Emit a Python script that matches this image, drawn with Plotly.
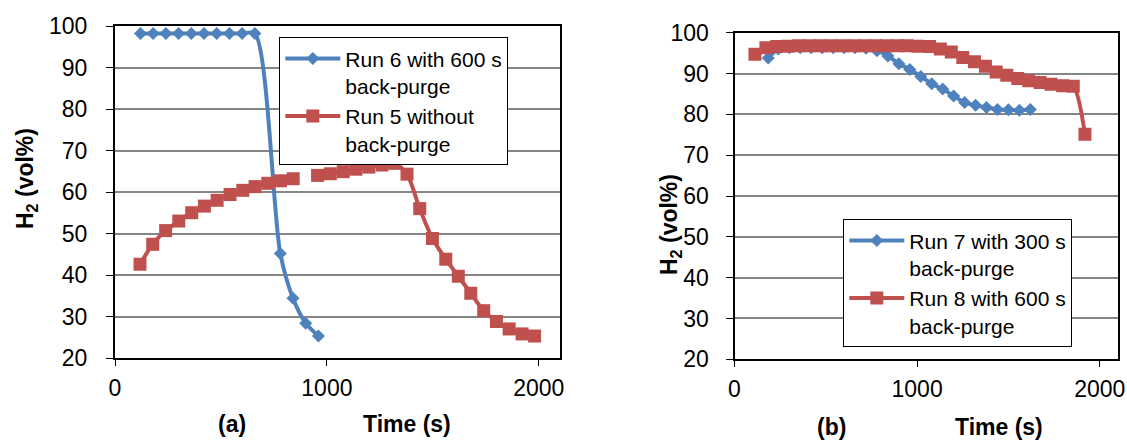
import plotly.graph_objects as go

# ---------------- data ----------------
# Panel (a)
run6_t = [120, 180, 240, 300, 360, 420, 480, 540, 600, 660, 780, 840, 900, 960]
run6_h2 = [98.2, 98.2, 98.2, 98.2, 98.2, 98.2, 98.2, 98.2, 98.2, 98.2, 45.2, 34.4, 28.4, 25.3]

run5_t = [118, 178, 239, 301, 362, 422, 482, 543, 603, 661, 721, 781, 841, 900,
          956, 1016, 1077, 1137, 1198, 1260, 1320, 1378, 1438, 1498, 1561, 1620,
          1679, 1740, 1800, 1860, 1921, 1980]
run5_h2 = [42.6, 47.4, 50.7, 53.0, 55.0, 56.6, 58.0, 59.4, 60.4, 61.3, 62.1, 62.7, 63.2, None,
           64.0, 64.4, 64.9, 65.5, 66.0, 66.5, 66.9, 64.3, 56.0, 48.8, 43.8, 39.7,
           35.6, 31.4, 28.8, 27.0, 25.8, 25.3]

# Panel (b)
run7_t = [185, 240, 300, 360, 420, 480, 540, 600, 660, 720, 780, 840, 900, 960,
          1020, 1080, 1140, 1200, 1260, 1320, 1380, 1440, 1500, 1560, 1620]
run7_h2 = [93.8, 96.0, 96.3, 96.3, 96.3, 96.3, 96.3, 96.3, 96.3, 96.2, 95.6, 94.3, 92.4, 91.0,
           89.3, 87.5, 86.2, 84.5, 82.9, 82.2, 81.7, 81.2, 81.1, 81.0, 81.2]

run8_t = [112, 172, 232, 292, 352, 412, 472, 532, 592, 652, 712, 772, 832, 892,
          945, 1004, 1068, 1127, 1187, 1250, 1314, 1374, 1433, 1491, 1551, 1611,
          1673, 1733, 1797, 1855, 1919]
run8_h2 = [94.7, 96.3, 96.6, 96.7, 96.8, 96.8, 96.8, 96.8, 96.8, 96.8, 96.8, 96.8, 96.8, 96.8,
           96.8, 96.7, 96.6, 96.0, 95.3, 93.9, 92.9, 91.8, 90.4, 89.6, 88.8, 88.2,
           87.8, 87.4, 87.0, 86.9, 75.1]

x_ticks = [0, 1000, 2000]
y_ticks = [20, 30, 40, 50, 60, 70, 80, 90, 100]

BLUE = "#4F81BD"
RED = "#C0504D"
FONT = "Liberation Sans, Arial, sans-serif"
W, H = 1127, 441

fig = go.Figure()

def add(t, v, name, color, symbol, size, xa, ya, legend):
    fig.add_trace(go.Scatter(
        x=t, y=v, name=name, mode="lines+markers",
        line=dict(color=color, width=4, shape="spline", smoothing=0.8),
        marker=dict(symbol=symbol, size=size, color=color, line=dict(width=0)),
        connectgaps=False, xaxis=xa, yaxis=ya, legend=legend,
    ))

add(run6_t, run6_h2, "Run 6 with 600 s<br>back-purge", BLUE, "diamond", 10, "x", "y", "legend")
add(run5_t, run5_h2, "Run 5 without<br>back-purge", RED, "square", 13, "x", "y", "legend")
add(run7_t, run7_h2, "Run 7 with 300 s<br>back-purge", BLUE, "diamond", 10, "x2", "y2", "legend2")
add(run8_t, run8_h2, "Run 8 with 600 s<br>back-purge", RED, "square", 13, "x2", "y2", "legend2")

def px_x(p):
    return p / W

def px_y(p):
    return 1 - p / H

axis_common = dict(
    showline=True, linecolor="black", linewidth=2, mirror=True,
    ticks="outside", tickcolor="black", tickwidth=1, automargin=False,
    zeroline=False, tickfont=dict(family=FONT, size=23, color="black"),
)

xa = dict(axis_common, range=[0, 2100], tickvals=x_ticks, ticklen=6, showgrid=False,
          ticklabelstandoff=2)
ya = dict(axis_common, range=[20, 100], tickvals=y_ticks, ticklen=7, showgrid=True,
          gridcolor="#868686", gridwidth=1.5, ticklabelstandoff=14)

fig.update_layout(
    template="none",
    width=W, height=H,
    margin=dict(l=0, r=0, t=0, b=0, pad=0, autoexpand=False),
    paper_bgcolor="white", plot_bgcolor="white",
    font=dict(family=FONT, size=23, color="black"),
    showlegend=True,
    xaxis=dict(xa, domain=[px_x(115), px_x(560)], anchor="y"),
    yaxis=dict(ya, domain=[px_y(358), px_y(26)], anchor="x"),
    xaxis2=dict(xa, domain=[px_x(734.5), px_x(1118)], anchor="y2"),
    yaxis2=dict(ya, domain=[px_y(359.3), px_y(32.7)], anchor="x2", ticklabelstandoff=12),
    legend=dict(x=px_x(279.3), y=px_y(37.3), xanchor="left", yanchor="top",
                bgcolor="white", bordercolor="black", borderwidth=1,
                font=dict(family=FONT, size=21, color="black"),
                valign="top", itemwidth=55, tracegroupgap=0),
    legend2=dict(x=px_x(843.3), y=px_y(219.3), xanchor="left", yanchor="top",
                 bgcolor="white", bordercolor="black", borderwidth=1,
                 font=dict(family=FONT, size=21, color="black"),
                 valign="top", itemwidth=55, tracegroupgap=0),
)

ann_font = dict(family=FONT, size=23, color="black")

def ann(text, xp, yp, angle=0):
    return dict(text=text, x=px_x(xp), y=px_y(yp), xref="paper", yref="paper",
                xanchor="center", yanchor="middle", showarrow=False,
                textangle=angle, font=ann_font)

annotations = [
    ann("<b>(a)</b>", 231.7, 424),
    ann("<b>Time (s)</b>", 407, 424),
    ann("<b>(b)</b>", 831.3, 427),
    ann("<b>Time (s)</b>", 999, 427),
    ann("<b>H<sub>2</sub> (vol%)</b>", 26, 179, -90),
    ann("<b>H<sub>2</sub> (vol%)</b>", 670, 225, -90),
]
fig.update_layout(annotations=annotations)

fig.write_html("out.html")
